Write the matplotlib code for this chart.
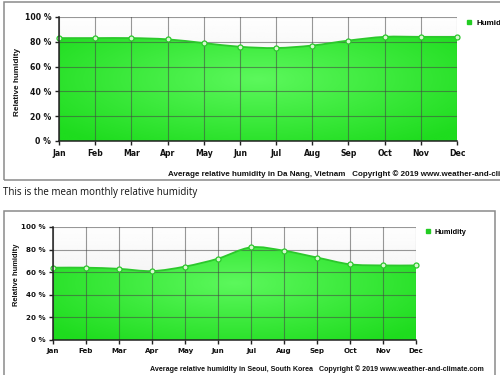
import numpy as np
import matplotlib
matplotlib.use("Agg")
import matplotlib.pyplot as plt
from matplotlib.path import Path
from matplotlib.patches import PathPatch, Rectangle
from matplotlib.lines import Line2D

# data
months = ['Jan', 'Feb', 'Mar', 'Apr', 'May', 'Jun', 'Jul', 'Aug', 'Sep', 'Oct', 'Nov', 'Dec']
da_nang_humidity = [83, 83, 83, 82, 79, 76, 75, 77, 81, 84, 84, 84]
seoul_humidity = [64, 64, 63, 61, 65, 72, 82, 79, 73, 67, 66, 66]
y_ticks = [0, 20, 40, 60, 80, 100]
y_tick_labels = ['0 %', '20 %', '40 %', '60 %', '80 %', '100 %']
da_nang_caption = "Average relative humidity in Da Nang, Vietnam   Copyright \u00a9 2019 www.weather-and-climate.com"
seoul_caption = "Average relative humidity in Seoul, South Korea   Copyright \u00a9 2019 www.weather-and-climate.com"
middle_text = "This is the mean monthly relative humidity"

W, H = 500, 375


def fx(px):
    return px / W


def fy(py):
    return 1 - py / H


def curve_vertices(xs, ys):
    """Bezier control points so the line runs smooth through each point."""
    slopes = np.gradient(np.asarray(ys, dtype=float))
    verts = [(xs[0], ys[0])]
    for i in range(len(xs) - 1):
        verts.append((xs[i] + 1 / 3, ys[i] + slopes[i] / 3))
        verts.append((xs[i + 1] - 1 / 3, ys[i + 1] - slopes[i + 1] / 3))
        verts.append((xs[i + 1], ys[i + 1]))
    return verts


def radial_green(n=200):
    gx, gy = np.meshgrid(np.linspace(-1, 1, n), np.linspace(-1, 1, n))
    r = np.clip(np.sqrt(gx ** 2 + gy ** 2) / 1.3, 0, 1)
    center = np.array([0x5c, 0xf8, 0x5c]) / 255
    edge = np.array([0x1e, 0xdc, 0x1e]) / 255
    return center + (edge - center) * r[..., None]


def draw_chart(fig, rect, values, ylabel_pos, legend_pos, font_scale):
    ax = fig.add_axes(rect)
    xs = np.arange(len(months))

    # light background above the area
    bg = np.linspace(0.91, 0.995, 50)[:, None] * np.ones((50, 2))
    ax.imshow(bg, cmap='gray', vmin=0, vmax=1, extent=(0, 11, 100, 0),
              aspect='auto', zorder=0)

    line_verts = curve_vertices(xs, values)
    line_codes = [Path.MOVETO] + [Path.CURVE4] * (len(line_verts) - 1)
    fill_verts = [(xs[0], 0)] + line_verts + [(xs[-1], 0), (xs[0], 0)]
    fill_codes = [Path.MOVETO, Path.LINETO] + line_codes[1:] + [Path.LINETO, Path.CLOSEPOLY]

    area = PathPatch(Path(fill_verts, fill_codes), facecolor='none', edgecolor='none')
    ax.add_patch(area)
    im = ax.imshow(radial_green(), extent=(0, 11, 0, 100), aspect='auto', zorder=1)
    im.set_clip_path(area)

    ax.add_patch(PathPatch(Path(line_verts, line_codes), facecolor='none',
                           edgecolor='#2cc82c', lw=1.3, zorder=3))

    for x in xs:
        ax.axvline(x, color='#444444', lw=0.8, alpha=0.55, zorder=2)
    for y in y_ticks[1:]:
        ax.axhline(y, color='#444444', lw=0.8, alpha=0.55, zorder=2)

    ax.plot(xs, values, linestyle='none', marker='o', markersize=3.6,
            markerfacecolor='#d8f8d0', markeredgecolor='#2cc82c',
            markeredgewidth=0.9, zorder=4, clip_on=False)

    ax.set_xlim(0, 11)
    ax.set_ylim(0, 100)
    ax.set_xticks(xs)
    ax.set_xticklabels(months)
    ax.set_yticks(y_ticks)
    ax.set_yticklabels(y_tick_labels)
    for lab in ax.get_xticklabels() + ax.get_yticklabels():
        lab.set_fontweight('bold')
        lab.set_fontsize(5.3 * font_scale)
        lab.set_color('#111111')
    ax.tick_params(direction='out', length=3, width=1, color='#222222', pad=2.5)
    for side in ['top', 'right']:
        ax.spines[side].set_visible(False)
    for side in ['left', 'bottom']:
        ax.spines[side].set_color('#222222')
        ax.spines[side].set_linewidth(1.1)
        ax.spines[side].set_zorder(5)

    fig.text(fx(ylabel_pos[0]), fy(ylabel_pos[1]), 'Relative humidity', rotation=90,
             ha='center', va='center', fontsize=5.6 * font_scale, fontweight='bold',
             family='Liberation Sans', color='#111111')

    handle = Line2D([], [], marker='s', color='#22cc22', linestyle='none', markersize=3.5)
    ax.legend([handle], ['Humidity'], loc='center left',
              bbox_to_anchor=(fx(legend_pos[0]), fy(legend_pos[1])),
              bbox_transform=fig.transFigure, frameon=False, borderpad=0,
              handlelength=0.8, handletextpad=0.5,
              prop={'weight': 'bold', 'size': 5.5 * font_scale, 'family': 'Liberation Sans'})
    return ax


fig = plt.figure(figsize=(W / 100, H / 100), dpi=100)
fig.patch.set_facecolor('white')

# frames around the two charts
fig.add_artist(Rectangle((fx(4), fy(180)), fx(530) - fx(4), fy(2) - fy(180),
                         transform=fig.transFigure, fill=False,
                         edgecolor='#8a8a8a', lw=1.1))
fig.add_artist(Rectangle((fx(4), fy(400)), fx(495) - fx(4), fy(211) - fy(400),
                         transform=fig.transFigure, fill=False,
                         edgecolor='#8a8a8a', lw=1.1))

draw_chart(fig, [fx(59), fy(141), fx(457) - fx(59), fy(17) - fy(141)],
           da_nang_humidity, (18, 82), (462, 23), 1.05)
draw_chart(fig, [fx(53), fy(340), fx(416) - fx(53), fy(227) - fy(340)],
           seoul_humidity, (16, 275), (421, 232), 0.97)

fig.text(fx(168), fy(174), da_nang_caption, ha='left', va='center',
         fontsize=5.8, fontweight='bold', family='Liberation Sans', color='#111111')
fig.text(fx(150), fy(369), seoul_caption, ha='left', va='center',
         fontsize=5.15, fontweight='bold', family='Liberation Sans', color='#111111')
fig.text(fx(3), fy(192), middle_text, ha='left', va='center',
         fontsize=7.0, family='Open Sans', color='#111111')

fig.savefig('out.png', dpi=100)
